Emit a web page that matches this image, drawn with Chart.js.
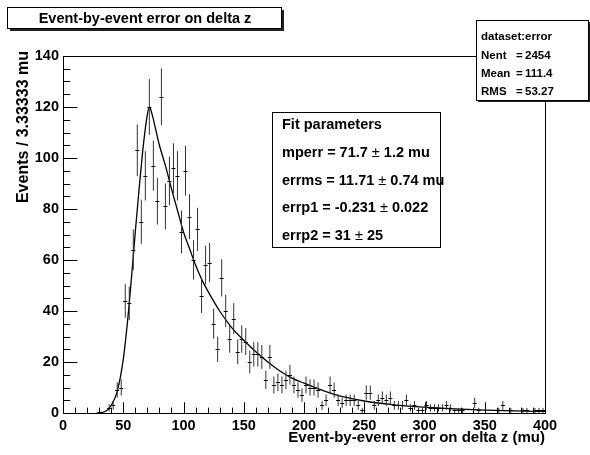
<!DOCTYPE html>
<html>
<head>
<meta charset="utf-8">
<script src="https://cdn.jsdelivr.net/npm/chart.js@4.4.1/dist/chart.umd.min.js"></script>
<style>
  html, body { margin: 0; padding: 0; background: #fff; }
  #wrap { width: 590px; height: 455px; position: relative; }
</style>
</head>
<body>
<div id="wrap"><canvas id="c" width="590" height="455"></canvas></div>
<script>
// ---- Data ----
const xMin = 0, xMax = 400, nBins = 120;           // 3.33333 mu per bin
const counts = [
  0,0,0,0,0,0,0,0,0,0,
  0,2,3,9,10,44,43,64,103,75,
  93,120,97,83,124,81,91,96,93,71,
  95,77,60,72,46,58,59,35,25,53,
  40,29,37,24,29,28,20,23,23,22,
  13,22,11,12,11,13,15,11,9,7,
  11,10,10,9,3,5,11,9,5,4,
  5,5,5,3,1,8,8,3,5,6,
  5,6,3,3,3,5,2,3,1,1,
  3,2,2,2,2,3,2,1,1,1,
  0,0,4,1,0,0,0,0,1,3,
  0,1,0,0,1,1,0,1,1,1
];
const fitX = [28, 35, 40, 45, 50, 55, 60, 63, 66, 69, 71.7, 74, 77, 80, 85, 90, 95, 100, 105, 110, 115, 120, 130, 140, 150, 160, 170, 180, 190, 200, 225, 250, 275, 300, 325, 350, 375, 400];
const fitY = [0, 0.6, 3, 8.5, 21, 43, 71, 87, 102, 114, 120, 117, 111, 105, 97, 88, 79.5, 71, 64.5, 58, 52.5, 48, 40, 33.5, 28.5, 24, 20, 16.5, 13.7, 11.7, 7.3, 4.7, 3.2, 2.3, 1.6, 1.1, 0.8, 0.6];
const xTicks = [0, 50, 100, 150, 200, 250, 300, 350, 400];
const yTicks = [0, 20, 40, 60, 80, 100, 120, 140];

const titleText = "Event-by-event error on delta z";
const xTitle = "Event-by-event error on delta z (mu)";
const yTitle = "Events / 3.33333 mu";
const statsLines = [["dataset:error", "", ""], ["Nent", "=", "2454"], ["Mean", "=", "111.4"], ["RMS", "=", "53.27"]];
const fitTitle = "Fit parameters";
const fitParams = [
  ["mperr = 71.7 ", "\u00b1", " 1.2 mu"],
  ["errms = 11.71 ", "\u00b1", " 0.74 mu"],
  ["errp1 = -0.231 ", "\u00b1", " 0.022"],
  ["errp2 = 31 ", "\u00b1", " 25"]
];

const FONT = "'Liberation Sans', Arial, Helvetica, sans-serif";
const binW = (xMax - xMin) / nBins;
const points = counts.map((c, i) => ({ x: xMin + (i + 0.5) * binW, y: c }));
const curve = fitX.map((x, i) => ({ x: x, y: fitY[i] }));

const rootPlugin = {
  id: 'rootStyle',
  afterDatasetsDraw(chart) {
    const ctx = chart.ctx;
    const xs = chart.scales.x, ys = chart.scales.y;
    ctx.save();
    ctx.strokeStyle = '#000';
    ctx.lineWidth = 1;
    points.forEach((p) => {
      if (p.y <= 0) return;
      const e = Math.sqrt(p.y);
      const px = xs.getPixelForValue(p.x);
      const pl = xs.getPixelForValue(p.x - binW / 2);
      const pr = xs.getPixelForValue(p.x + binW / 2);
      const py = ys.getPixelForValue(p.y);
      const lo = ys.getPixelForValue(Math.max(0, p.y - e));
      const hi = ys.getPixelForValue(p.y + e);
      ctx.beginPath();
      ctx.strokeStyle = '#333';
      ctx.moveTo(px, lo); ctx.lineTo(px, hi);
      ctx.stroke();
      ctx.beginPath();
      ctx.strokeStyle = '#000';
      ctx.moveTo(pl, Math.round(py) + 0.5); ctx.lineTo(pr, Math.round(py) + 0.5);
      ctx.stroke();
    });
    ctx.restore();
  },
  afterDraw(chart) {
    const ctx = chart.ctx;
    const xs = chart.scales.x, ys = chart.scales.y;
    const a = chart.chartArea;
    ctx.save();
    ctx.strokeStyle = '#000';
    ctx.lineWidth = 1;
    // frame
    ctx.strokeRect(Math.round(a.left) + 0.5, Math.round(a.top) + 0.5, Math.round(a.right - a.left), Math.round(a.bottom - a.top));
    // ticks drawn inside the frame
    const hgt = a.bottom - a.top, wid = a.right - a.left;
    ctx.beginPath();
    for (let v = xMin; v <= xMax + 1e-9; v += 10) {
      const px = Math.round(xs.getPixelForValue(v)) + 0.5;
      const len = (v % 50 === 0) ? hgt * 0.03 : hgt * 0.015;
      ctx.moveTo(px, a.bottom); ctx.lineTo(px, a.bottom - len);
    }
    for (let v = 0; v <= 140 + 1e-9; v += 5) {
      const py = Math.round(ys.getPixelForValue(v)) + 0.5;
      const len = (v % 20 === 0) ? wid * 0.03 : wid * 0.015;
      ctx.moveTo(a.left, py); ctx.lineTo(a.left + len, py);
    }
    ctx.stroke();

    // axis titles
    ctx.fillStyle = '#000';
    ctx.font = "bold 15px " + FONT;
    ctx.textAlign = 'right';
    ctx.textBaseline = 'middle';
    ctx.fillText(xTitle, a.right, 438);
    ctx.save();
    ctx.translate(24, a.top - 5);
    ctx.rotate(-Math.PI / 2);
    ctx.font = "bold 16px " + FONT;
    ctx.textAlign = 'right';
    ctx.fillText(yTitle, 0, 0);
    ctx.restore();

    // title box with shadow
    ctx.fillStyle = '#222';
    ctx.fillRect(10, 10, 274, 21);
    ctx.fillStyle = '#fff';
    ctx.fillRect(7, 7, 274, 21);
    ctx.strokeRect(7.5, 7.5, 274, 21);
    ctx.fillStyle = '#000';
    ctx.font = "bold 14.5px " + FONT;
    ctx.textAlign = 'center';
    ctx.fillText(titleText, 145, 18.5);

    // stats box
    ctx.fillStyle = '#222';
    ctx.fillRect(478, 22, 114, 80);
    ctx.fillStyle = '#fff';
    ctx.fillRect(476, 20, 112, 80);
    ctx.strokeRect(476.5, 20.5, 112, 80);
    ctx.fillStyle = '#000';
    ctx.font = "bold 11.5px " + FONT;
    ctx.textAlign = 'left';
    const sy = [37, 55.5, 74, 92];
    statsLines.forEach((l, i) => {
      ctx.fillText(l[0], 481, sy[i]);
      if (l[1]) ctx.fillText(l[1], 516, sy[i]);
      if (l[2]) ctx.fillText(l[2], 525, sy[i]);
    });

    // fit parameter box
    ctx.fillStyle = '#fff';
    ctx.fillRect(272, 112, 168, 135);
    ctx.strokeRect(272.5, 112.5, 168, 135);
    ctx.fillStyle = '#000';
    ctx.font = "bold 14.5px " + FONT;
    ctx.textAlign = 'left';
    ctx.fillText(fitTitle, 282, 125);
    const fy = [153, 180.5, 208, 235.5];
    fitParams.forEach((l, i) => {
      let x = 282;
      ctx.font = "bold 14.5px " + FONT;
      ctx.fillText(l[0], x, fy[i]);
      x += ctx.measureText(l[0]).width;
      ctx.font = "14.5px " + FONT;
      ctx.fillText(l[1], x, fy[i]);
      x += ctx.measureText(l[1]).width;
      ctx.font = "bold 14.5px " + FONT;
      ctx.fillText(l[2], x, fy[i]);
    });
    ctx.restore();
  }
};

new Chart(document.getElementById('c'), {
  type: 'scatter',
  data: {
    datasets: [
      {
        type: 'line',
        data: curve,
        borderColor: '#000',
        borderWidth: 1.3,
        pointRadius: 0,
        fill: false,
        cubicInterpolationMode: 'monotone'
      },
      {
        data: points,
        pointRadius: 0,
        showLine: false
      }
    ]
  },
  options: {
    responsive: false,
    animation: false,
    devicePixelRatio: 1,
    layout: { padding: { top: 56, right: 45, left: 0, bottom: 0 } },
    plugins: { legend: { display: false }, tooltip: { enabled: false } },
    scales: {
      x: {
        type: 'linear', min: xMin, max: xMax,
        afterBuildTicks(s) { s.ticks = xTicks.map(v => ({ value: v })); },
        ticks: { color: '#000', font: { family: FONT, size: 14.5, weight: 'bold' }, padding: 4, maxRotation: 0, autoSkip: false },
        grid: { display: false, drawTicks: false },
        border: { display: false },
        afterFit(s) { s.height = 42; }
      },
      y: {
        type: 'linear', min: 0, max: 140,
        afterBuildTicks(s) { s.ticks = yTicks.map(v => ({ value: v })); },
        ticks: { color: '#000', font: { family: FONT, size: 14.5, weight: 'bold' }, padding: 4, autoSkip: false },
        grid: { display: false, drawTicks: false },
        border: { display: false },
        afterFit(s) { s.width = 63; }
      }
    }
  },
  plugins: [rootPlugin]
});
</script>
</body>
</html>
